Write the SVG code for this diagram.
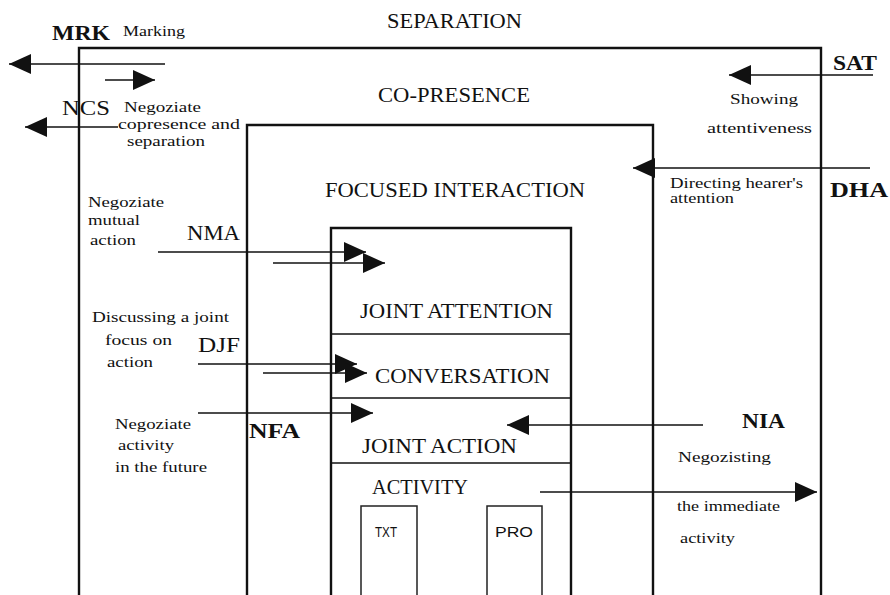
<svg xmlns="http://www.w3.org/2000/svg" width="890" height="595" viewBox="0 0 890 595">
<style>
  text { font-family: "Liberation Serif", "Times New Roman", serif; fill: #111; }
  .big { font-size: 21px; }
  .code { font-size: 21px; font-weight: bold; }
  .codeR { font-size: 22px; }
  .sm { font-size: 15px; }
  .sans { font-family: "Liberation Sans", Arial, sans-serif; font-size: 15px; }
  .box { fill: none; stroke: #111; stroke-width: 2.4; }
  .div { fill: none; stroke: #111; stroke-width: 1.6; }
  .thin { fill: none; stroke: #222; stroke-width: 1.5; }
  .arr { fill: none; stroke: #111; stroke-width: 1.7; marker-end: url(#ah); }
</style>
<defs>
  <marker id="ah" markerUnits="userSpaceOnUse" markerWidth="23" markerHeight="21" refX="22" refY="10" orient="auto">
    <path d="M0,0 L22,10 L0,20 Z" fill="#111"/>
  </marker>
</defs>
<rect width="890" height="595" fill="#fff"/>

<g id="separation">
  <text class="big" x="387" y="28" textLength="135" lengthAdjust="spacingAndGlyphs">SEPARATION</text>
</g>
<g id="co-presence">
  <path class="box" d="M79,595 V48 H821 V595"/>
  <text class="big" x="378" y="102" textLength="152" lengthAdjust="spacingAndGlyphs">CO-PRESENCE</text>
</g>
<g id="focused-interaction">
  <path class="box" d="M247,595 V125 H653 V595"/>
  <text class="big" x="325" y="197" textLength="260" lengthAdjust="spacingAndGlyphs">FOCUSED INTERACTION</text>
</g>
<g id="joint-attention">
  <path class="box" d="M331,595 V228 H571 V595"/>
  <text class="big" x="360" y="318" textLength="193" lengthAdjust="spacingAndGlyphs">JOINT ATTENTION</text>
</g>
<g id="conversation">
  <line class="div" x1="331" y1="334" x2="571" y2="334"/>
  <text class="big" x="375" y="383" textLength="175" lengthAdjust="spacingAndGlyphs">CONVERSATION</text>
</g>
<g id="joint-action">
  <line class="div" x1="331" y1="398" x2="571" y2="398"/>
  <text class="big" x="362" y="453" textLength="155" lengthAdjust="spacingAndGlyphs">JOINT ACTION</text>
</g>
<g id="activity">
  <line class="div" x1="331" y1="463" x2="571" y2="463"/>
  <text class="big" x="372" y="494" textLength="96" lengthAdjust="spacingAndGlyphs">ACTIVITY</text>
</g>
<g id="txt">
  <path class="thin" d="M361,595 V506 H417 V595"/>
  <text class="sans" x="375" y="537" textLength="22" lengthAdjust="spacingAndGlyphs">TXT</text>
</g>
<g id="pro">
  <path class="thin" d="M487,595 V506 H542 V595"/>
  <text class="sans" x="495" y="537" textLength="38" lengthAdjust="spacingAndGlyphs">PRO</text>
</g>

<g id="connectors">
  <line class="arr" x1="165" y1="64" x2="9" y2="64"/>
  <line class="arr" x1="105" y1="80" x2="155" y2="80"/>
  <line class="arr" x1="118" y1="127" x2="25" y2="127"/>
  <line class="arr" x1="873" y1="75" x2="729" y2="75"/>
  <line class="arr" x1="870" y1="168" x2="633" y2="168"/>
  <line class="arr" x1="158" y1="252" x2="366" y2="252"/>
  <line class="arr" x1="273" y1="263" x2="385" y2="263"/>
  <line class="arr" x1="198" y1="364" x2="357" y2="364"/>
  <line class="arr" x1="263" y1="373" x2="367" y2="373"/>
  <line class="arr" x1="198" y1="413" x2="373" y2="413"/>
  <line class="arr" x1="703" y1="425" x2="507" y2="425"/>
  <line class="arr" x1="540" y1="492" x2="817" y2="492"/>
</g>

<g id="label-mrk">
  <text class="code" x="52" y="40" textLength="58" lengthAdjust="spacingAndGlyphs">MRK</text>
  <text class="sm" x="123" y="36" textLength="62" lengthAdjust="spacingAndGlyphs">Marking</text>
</g>
<g id="label-ncs">
  <text class="codeR" x="62" y="115" textLength="48" lengthAdjust="spacingAndGlyphs">NCS</text>
  <text class="sm" x="124" y="112" textLength="77" lengthAdjust="spacingAndGlyphs">Negoziate</text>
  <text class="sm" x="118" y="129" textLength="122" lengthAdjust="spacingAndGlyphs">copresence and</text>
  <text class="sm" x="127" y="146" textLength="78" lengthAdjust="spacingAndGlyphs">separation</text>
</g>
<g id="label-sat">
  <text class="code" x="833" y="70" textLength="44" lengthAdjust="spacingAndGlyphs">SAT</text>
  <text class="sm" x="730" y="104" textLength="68" lengthAdjust="spacingAndGlyphs">Showing</text>
  <text class="sm" x="707" y="133" textLength="105" lengthAdjust="spacingAndGlyphs">attentiveness</text>
</g>
<g id="label-dha">
  <text class="code" x="830" y="197" textLength="58" lengthAdjust="spacingAndGlyphs">DHA</text>
  <text class="sm" x="670" y="188" textLength="133" lengthAdjust="spacingAndGlyphs">Directing hearer's</text>
  <text class="sm" x="670" y="203" textLength="64" lengthAdjust="spacingAndGlyphs">attention</text>
</g>
<g id="label-nma">
  <text class="codeR" x="187" y="240" textLength="53" lengthAdjust="spacingAndGlyphs">NMA</text>
  <text class="sm" x="88" y="207" textLength="76" lengthAdjust="spacingAndGlyphs">Negoziate</text>
  <text class="sm" x="88" y="225" textLength="52" lengthAdjust="spacingAndGlyphs">mutual</text>
  <text class="sm" x="90" y="245" textLength="46" lengthAdjust="spacingAndGlyphs">action</text>
</g>
<g id="label-djf">
  <text class="codeR" x="198" y="352" textLength="42" lengthAdjust="spacingAndGlyphs">DJF</text>
  <text class="sm" x="92" y="322" textLength="137" lengthAdjust="spacingAndGlyphs">Discussing a joint</text>
  <text class="sm" x="105" y="345" textLength="67" lengthAdjust="spacingAndGlyphs">focus on</text>
  <text class="sm" x="107" y="367" textLength="46" lengthAdjust="spacingAndGlyphs">action</text>
</g>
<g id="label-nfa">
  <text class="code" x="249" y="438" textLength="51" lengthAdjust="spacingAndGlyphs">NFA</text>
  <text class="sm" x="115" y="429" textLength="76" lengthAdjust="spacingAndGlyphs">Negoziate</text>
  <text class="sm" x="118" y="450" textLength="56" lengthAdjust="spacingAndGlyphs">activity</text>
  <text class="sm" x="115" y="472" textLength="92" lengthAdjust="spacingAndGlyphs">in the future</text>
</g>
<g id="label-nia">
  <text class="code" x="742" y="428" textLength="43" lengthAdjust="spacingAndGlyphs">NIA</text>
  <text class="sm" x="678" y="462" textLength="93" lengthAdjust="spacingAndGlyphs">Negozisting</text>
  <text class="sm" x="677" y="511" textLength="103" lengthAdjust="spacingAndGlyphs">the immediate</text>
  <text class="sm" x="680" y="543" textLength="55" lengthAdjust="spacingAndGlyphs">activity</text>
</g>
</svg>
